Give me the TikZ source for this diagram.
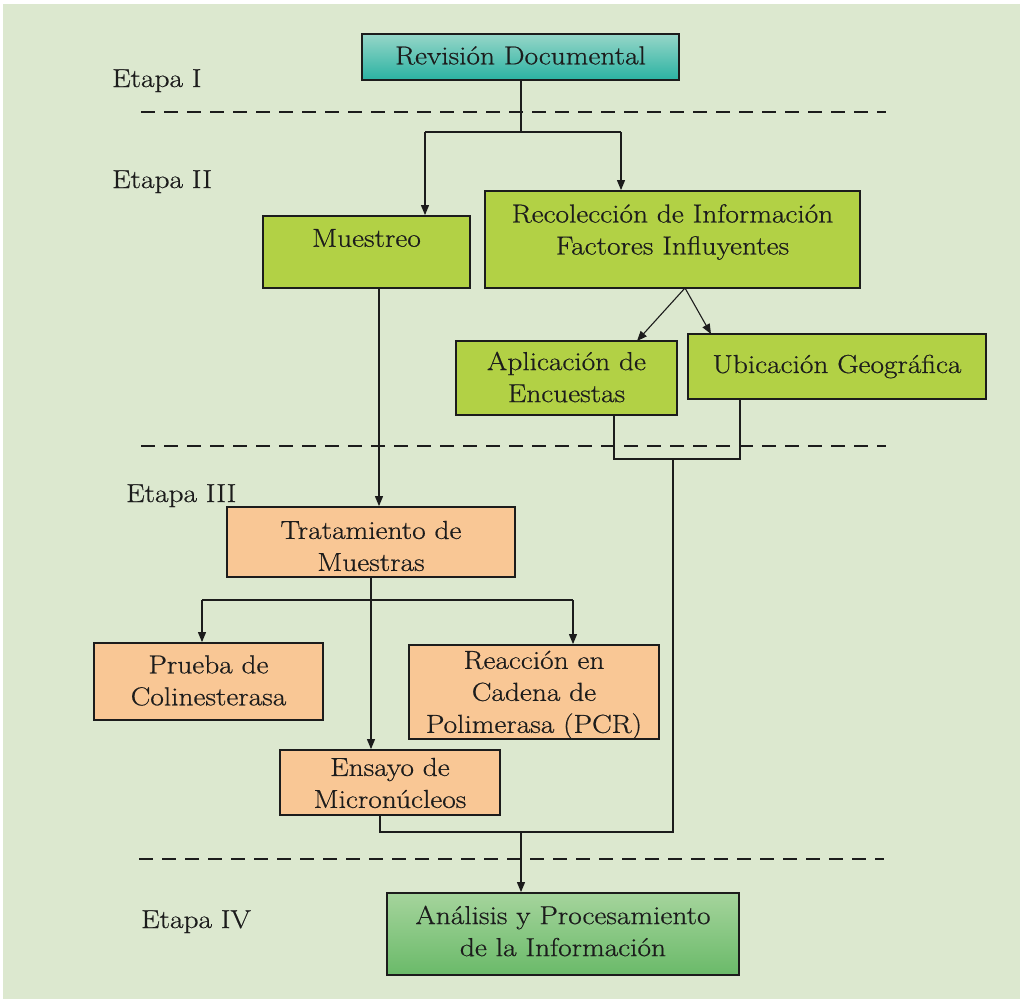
\documentclass[tikz,border=0pt]{standalone}
\usepackage{fontspec}
\setmainfont{Latin Modern Roman}[FakeStretch=1.13, FakeBold=0.6]
\usetikzlibrary{arrows.meta}
\definecolor{bg}{HTML}{DCE8CF}
\definecolor{lime}{HTML}{B2D145}
\definecolor{peach}{HTML}{F9C795}
\definecolor{tealtop}{HTML}{96D6C8}
\definecolor{tealbot}{HTML}{2AB2A2}
\definecolor{grtop}{HTML}{A5D49C}
\definecolor{grbot}{HTML}{6ABA69}
\definecolor{ink}{HTML}{1C1C1C}
\begin{document}
\begin{tikzpicture}[x=1pt,y=-1pt,
  font=\fontsize{26}{32}\selectfont,
  box/.style={draw=ink, line width=1.8pt, inner sep=0pt},
  txt/.style={align=center, inner sep=0pt, text=ink},
  conn/.style={draw=ink, line width=1.1pt},
  arr/.style={conn, -{Triangle[length=10pt,width=8pt]}},
  stageline/.style={draw=ink, line width=1.8pt, dash pattern=on 14pt off 9pt},
  stagelabel/.style={anchor=base west, inner sep=0pt, text=ink}]
\useasboundingbox (0,0) rectangle (1020,999);
\fill[white] (0,0) rectangle (1020,999);
\fill[bg] (3,4) rectangle (1020,999);

% stage labels
\node[stagelabel] (e1) at (112,87) {Etapa I};
\node[stagelabel] (e2) at (112,188) {Etapa II};
\node[stagelabel] (e3) at (126,502) {Etapa III};
\node[stagelabel] (e4) at (141,928) {Etapa IV};

% stage separators
\coordinate (d1a) at (141,112); \coordinate (d1b) at (886,112);
\coordinate (d2a) at (141,446); \coordinate (d2b) at (886,446);
\coordinate (d3a) at (139,859); \coordinate (d3b) at (884,859);
\draw[stageline] (d1a) -- (d1b);
\draw[stageline] (d2a) -- (d2b);
\draw[stageline] (d3a) -- (d3b);

% boxes
\node[box, top color=tealtop, bottom color=tealbot, minimum width=317pt, minimum height=46pt] (rev) at (520.5,57) {};
\node[txt] (revt) at (520.5,55.5) {Revisión Documental};
\node[box, fill=lime, minimum width=207pt, minimum height=72pt] (mue) at (366.5,252) {};
\node[txt] (muet) at (366.5,238) {Muestreo};
\node[box, fill=lime, minimum width=375pt, minimum height=97pt] (rec) at (672.5,239.5) {};
\node[txt] (rect) at (672.5,232) {Recolección de Información\\Factores Influyentes};
\node[box, fill=lime, minimum width=221pt, minimum height=74pt] (apl) at (566.5,378) {};
\node[txt] (aplt0) at (566.5,377) {Aplicación de\\Encuestas};
\node[box, fill=lime, minimum width=298pt, minimum height=65pt] (ubi) at (837,366.5) {};
\node[txt] (ubit0) at (837,366.5) {Ubicación Geográfica};
\node[box, fill=peach, minimum width=288pt, minimum height=70pt] (tra) at (371,542) {};
\node[txt] (trat) at (371,546) {Tratamiento de\\Muestras};
\node[box, fill=peach, minimum width=229pt, minimum height=77pt] (pru) at (208.5,681.5) {};
\node[txt] (prut) at (208.5,680.5) {Prueba de\\Colinesterasa};
\node[box, fill=peach, minimum width=250pt, minimum height=94pt] (rea) at (534,692) {};
\node[txt] (reat) at (534,695) {Reacción en\\Cadena de\\Polimerasa (PCR)};
\node[box, fill=peach, minimum width=220pt, minimum height=65pt] (ens) at (390,782.5) {};
\node[txt] (enst) at (390,783) {Ensayo de\\Micronúcleos};
\node[box, top color=grtop, bottom color=grbot, minimum width=352pt, minimum height=82pt] (ana) at (563,934) {};
\node[txt] (anat) at (563,931) {Análisis y Procesamiento\\de la Información};

% connectors stage I -> II
\coordinate (j1) at (521,132);
\coordinate (j1l) at (425,132);
\coordinate (j1r) at (621,132);
\draw[conn] (rev.south -| j1) -- (j1);
\draw[conn] (j1l) -- (j1r);
\draw[arr] (j1l) -- (j1l |- mue.north);
\draw[arr] (j1r) -- (j1r |- rec.north);

% rec -> apl, ubi
\coordinate (recb) at (685,288);
\coordinate (aplt) at (637,341);
\coordinate (ubit) at (711,334);
\draw[arr] (recb) -- (aplt);
\draw[arr] (recb) -- (ubit);

% apl, ubi -> ana
\coordinate (ja) at (614,459);
\coordinate (ju) at (740,459);
\coordinate (jm) at (673,459);
\coordinate (jb) at (673,832);
\coordinate (je) at (380,832);
\coordinate (jn) at (521,832);
\draw[conn] (ja |- apl.south) -- (ja) -- (ju) -- (ju |- ubi.south);
\draw[conn] (jm) -- (jb) -- (je) -- (je |- ens.south);
\draw[arr] (jn) -- (jn |- ana.north);

% mue -> tra
\coordinate (mb) at (379,288);
\draw[arr] (mb) -- (mb |- tra.north);

% tra -> pru, rea, ens
\coordinate (tb) at (371,577);
\coordinate (tl) at (202,600);
\coordinate (tr) at (573,600);
\draw[conn] (tl) -- (tr);
\draw[arr] (tb) -- (tb |- ens.north);
\draw[arr] (tl) -- (tl |- pru.north);
\draw[arr] (tr) -- (tr |- rea.north);
\end{tikzpicture}
\end{document}
